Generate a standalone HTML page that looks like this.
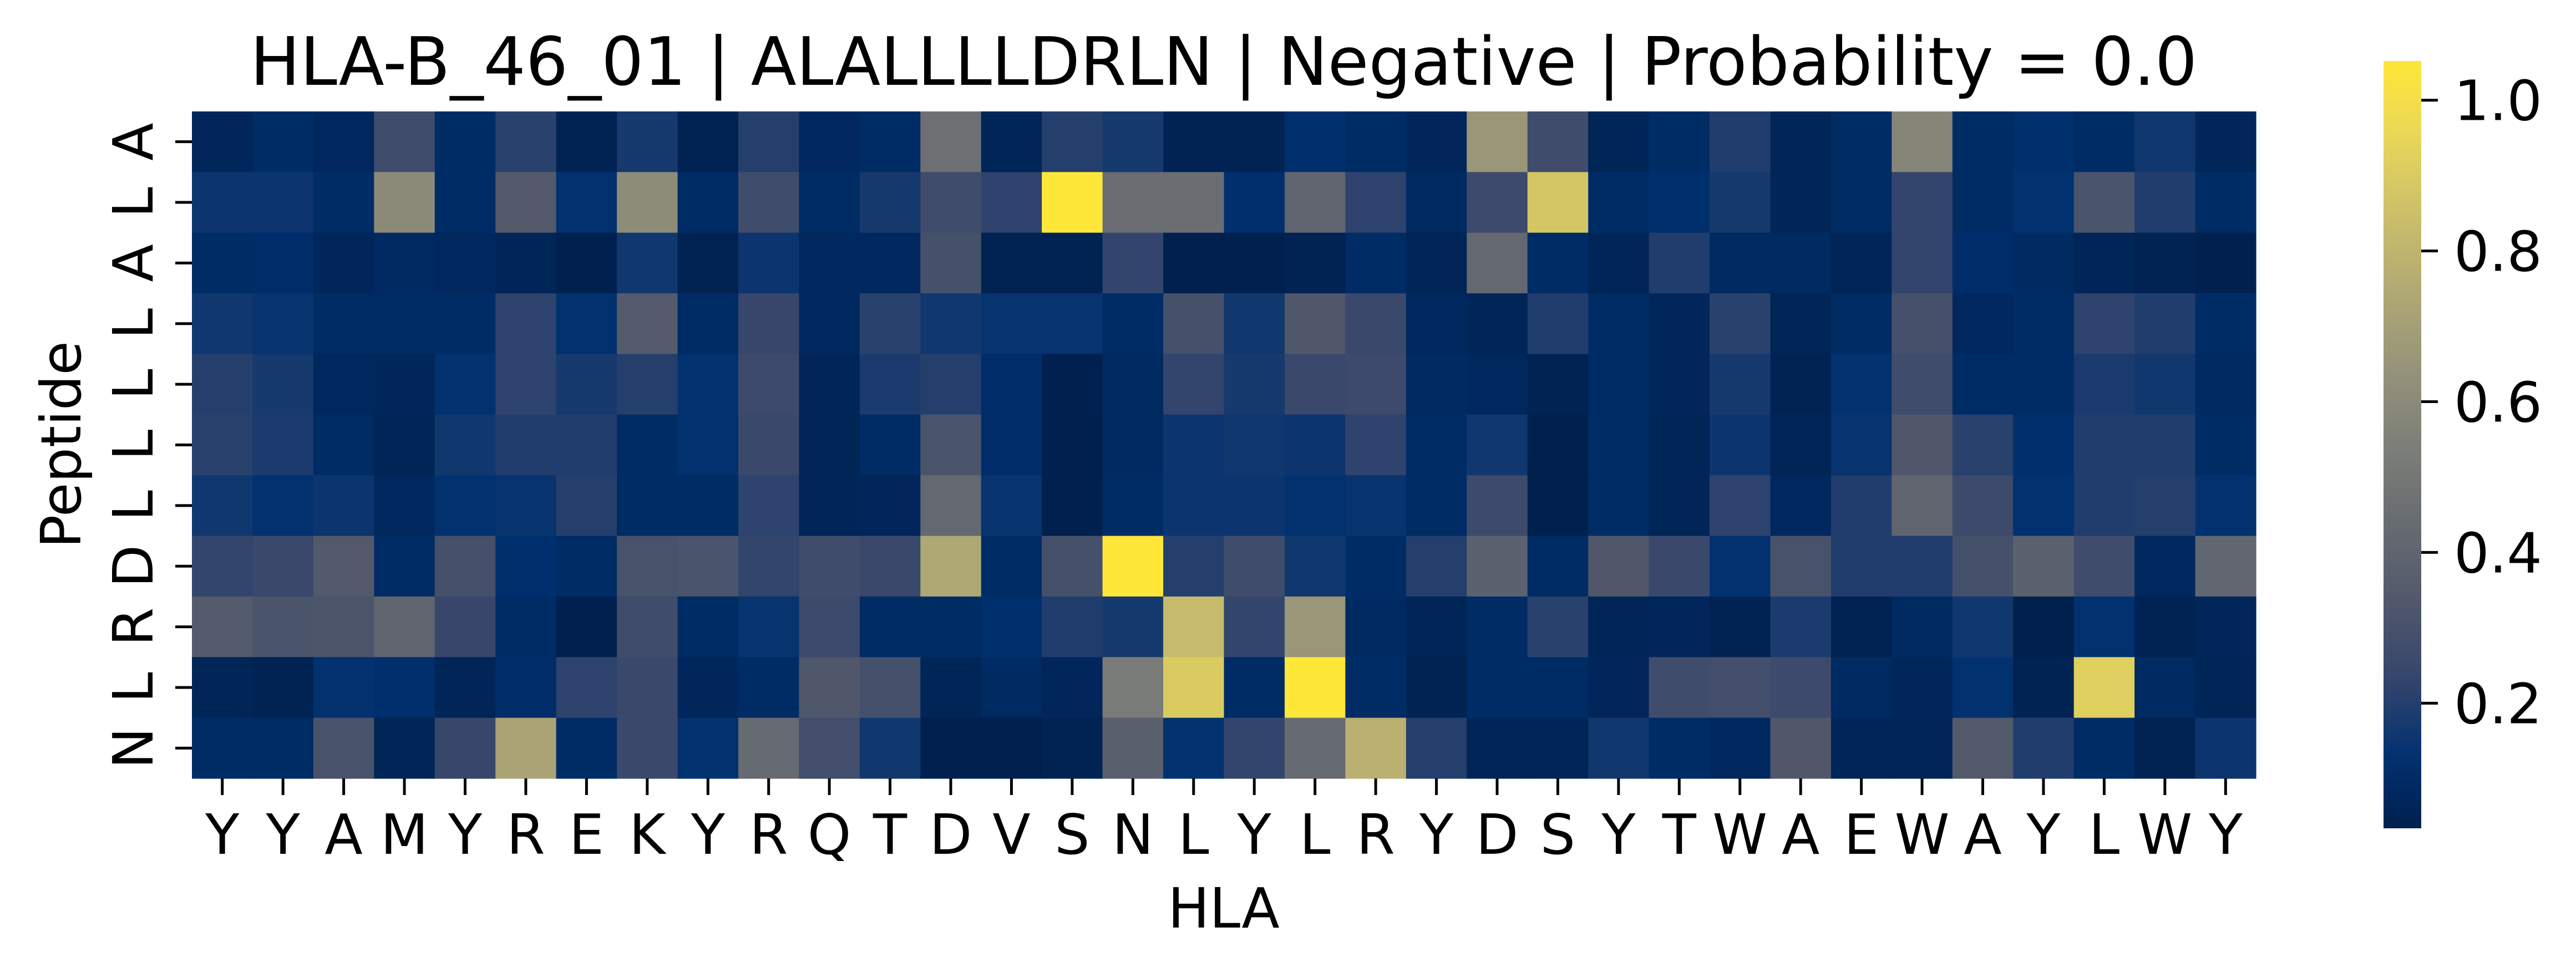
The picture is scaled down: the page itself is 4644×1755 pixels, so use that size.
<!DOCTYPE html>
<html><head><meta charset="utf-8"><style>
html,body{margin:0;padding:0;background:#fff;}
svg text{font-family:"DejaVu Sans","Liberation Sans",sans-serif;fill:#000;}
</style></head><body>
<svg id="chart" width="4644" height="1750" xmlns="http://www.w3.org/2000/svg">
<defs><linearGradient id="cbg" x1="0" y1="1" x2="0" y2="0"></linearGradient></defs>
<text x="2206" y="153" font-size="120" text-anchor="middle">HLA-B_46_01 | ALALLLLDRLN | Negative | Probability = 0.0</text>
<text x="2206" y="1673" font-size="100" text-anchor="middle">HLA</text>
<text x="0" y="0" font-size="100" text-anchor="middle" transform="translate(145,802) rotate(-90)">Peptide</text>
<g id="cells"></g>
<g id="xticks"></g>
<g id="yticks"></g>
<g id="cbar"></g>
</svg>
<script>
const hlaLabels = ["Y","Y","A","M","Y","R","E","K","Y","R","Q","T","D","V","S","N","L","Y","L","R","Y","D","S","Y","T","W","A","E","W","A","Y","L","W","Y"];
const peptideLabels = ["A","L","A","L","L","L","L","D","R","L","N"];
const row0 = [0.07,0.1,0.08,0.27,0.1,0.21,0.05,0.17,0.05,0.2,0.08,0.1,0.46,0.06,0.2,0.17,0.05,0.05,0.12,0.1,0.07,0.66,0.27,0.06,0.1,0.19,0.06,0.1,0.58,0.1,0.12,0.1,0.16,0.07];
const row1 = [0.15,0.15,0.1,0.6,0.1,0.34,0.13,0.61,0.1,0.27,0.1,0.17,0.27,0.22,1.05,0.45,0.45,0.12,0.4,0.22,0.09,0.26,0.88,0.1,0.12,0.17,0.06,0.1,0.23,0.1,0.13,0.31,0.19,0.1];
const row2 = [0.1,0.11,0.07,0.09,0.08,0.06,0.04,0.16,0.05,0.15,0.08,0.08,0.29,0.05,0.05,0.23,0.04,0.04,0.05,0.1,0.06,0.42,0.1,0.06,0.19,0.09,0.09,0.06,0.23,0.11,0.09,0.06,0.05,0.04];
const row3 = [0.16,0.14,0.1,0.1,0.1,0.22,0.13,0.35,0.1,0.24,0.08,0.21,0.16,0.14,0.14,0.1,0.29,0.16,0.33,0.25,0.08,0.06,0.19,0.1,0.07,0.21,0.06,0.1,0.29,0.08,0.1,0.22,0.19,0.1];
const row4 = [0.2,0.17,0.08,0.07,0.13,0.22,0.17,0.2,0.13,0.26,0.06,0.18,0.2,0.11,0.04,0.09,0.23,0.17,0.25,0.26,0.09,0.08,0.05,0.1,0.07,0.17,0.05,0.13,0.27,0.1,0.1,0.18,0.16,0.09];
const row5 = [0.21,0.18,0.1,0.06,0.16,0.19,0.19,0.1,0.13,0.25,0.06,0.1,0.31,0.11,0.03,0.09,0.15,0.16,0.15,0.22,0.1,0.16,0.03,0.1,0.06,0.15,0.06,0.14,0.33,0.21,0.12,0.19,0.19,0.1];
const row6 = [0.16,0.13,0.15,0.08,0.13,0.14,0.2,0.1,0.1,0.22,0.06,0.07,0.42,0.14,0.03,0.1,0.15,0.15,0.13,0.14,0.1,0.26,0.03,0.1,0.06,0.22,0.08,0.19,0.4,0.26,0.13,0.19,0.2,0.13];
const row7 = [0.23,0.25,0.34,0.1,0.29,0.12,0.1,0.3,0.31,0.23,0.27,0.25,0.74,0.1,0.29,1.05,0.2,0.27,0.16,0.1,0.2,0.38,0.1,0.33,0.25,0.13,0.3,0.19,0.19,0.29,0.38,0.27,0.08,0.41];
const row8 = [0.35,0.31,0.32,0.4,0.24,0.1,0.04,0.27,0.1,0.14,0.26,0.1,0.1,0.12,0.19,0.17,0.83,0.23,0.66,0.09,0.06,0.1,0.21,0.06,0.07,0.05,0.18,0.05,0.09,0.16,0.03,0.13,0.05,0.07];
const row9 = [0.06,0.05,0.13,0.12,0.06,0.11,0.22,0.25,0.07,0.1,0.33,0.29,0.06,0.09,0.07,0.52,0.9,0.1,1.05,0.1,0.05,0.1,0.1,0.07,0.27,0.28,0.26,0.09,0.07,0.13,0.05,0.92,0.09,0.06];
const row10 = [0.1,0.1,0.3,0.06,0.24,0.72,0.1,0.25,0.13,0.43,0.28,0.16,0.04,0.04,0.05,0.37,0.13,0.23,0.43,0.78,0.2,0.06,0.06,0.16,0.1,0.08,0.33,0.06,0.06,0.34,0.19,0.1,0.05,0.15];
const values = [row0,row1,row2,row3,row4,row5,row6,row7,row8,row9,row10];
const cbTicks = [0.2,0.4,0.6,0.8,1.0];
const cbTickLabels = ["0.2","0.4","0.6","0.8","1.0"];
const vmin = 0.034, vmax = 1.052;

const cmap = [[0,[0,32,77]],[0.09,[0,48,112]],[0.2,[55,70,108]],[0.3,[82,89,107]],[0.4,[104,108,114]],[0.5,[125,127,120]],[0.6,[150,147,121]],[0.7,[176,169,116]],[0.8,[203,191,106]],[0.9,[232,214,89]],[1,[254,231,56]]];
function colorAt(t){
  t=Math.max(0,Math.min(1,t));
  for(let i=1;i<cmap.length;i++){
    if(t<=cmap[i][0]){
      const a=cmap[i-1],b=cmap[i],f=(t-a[0])/(b[0]-a[0]);
      const c=a[1].map((v,k)=>Math.round(v+(b[1][k]-v)*f));
      return `rgb(${c[0]},${c[1]},${c[2]})`;
    }
  }
  return 'rgb(254,231,56)';
}
const NS='http://www.w3.org/2000/svg';
const X0=346,X1=4067,Y0=201,Y1=1404;
const cw=(X1-X0)/hlaLabels.length, rh=(Y1-Y0)/peptideLabels.length;
const xPos=i=>X0+i*cw, yPos=j=>Y0+j*rh;
function mk(tag,attrs,parent){const e=document.createElementNS(NS,tag);for(const k in attrs)e.setAttribute(k,attrs[k]);parent.appendChild(e);return e;}
const cells=document.getElementById('cells');
values.forEach((row,j)=>row.forEach((v,i)=>{
  const r=mk('rect',{x:xPos(i).toFixed(2),y:yPos(j).toFixed(2),width:(cw+0.6).toFixed(2),height:(rh+0.6).toFixed(2),fill:colorAt((v-vmin)/(vmax-vmin))},cells);
  
  
}));
const xt=document.getElementById('xticks');
hlaLabels.forEach((l,i)=>{
  const cx=xPos(i)+cw/2;
  const ln=mk('line',{x1:cx,x2:cx,y1:Y1,y2:Y1+30,stroke:'#000','stroke-width':5},xt);
  
  
  const t=mk('text',{x:cx,y:1540,'font-size':100,'text-anchor':'middle'},xt);
  t.textContent=l;
  
  
});
const yt=document.getElementById('yticks');
peptideLabels.forEach((l,j)=>{
  const cy=yPos(j)+rh/2;
  const ln=mk('line',{x1:X0-30,x2:X0,y1:cy,y2:cy,stroke:'#000','stroke-width':5},yt);
  
  
  const t=mk('text',{x:0,y:0,'font-size':100,'text-anchor':'middle',transform:`translate(275,${cy}) rotate(-90)`},yt);
  t.textContent=l;
  
  
});
// colorbar
const grad=document.getElementById('cbg');
for(let k=0;k<=20;k++){mk('stop',{offset:k/20,'stop-color':colorAt(k/20)},grad);}
const CB={x:4297,w:68,y0:110,y1:1494};
const cbar=document.getElementById('cbar');
const cr=mk('rect',{x:CB.x,y:CB.y0,width:CB.w,height:CB.y1-CB.y0,fill:'url(#cbg)'},cbar);


const cbY=v=>CB.y1-(v-vmin)/(vmax-vmin)*(CB.y1-CB.y0);
cbTicks.forEach((v,k)=>{
  const y=cbY(v);
  const ln=mk('line',{x1:CB.x+CB.w,x2:CB.x+CB.w+30,y1:y,y2:y,stroke:'#000','stroke-width':5},cbar);
  
  
  const t=mk('text',{x:4424,y:y+36,'font-size':100},cbar);
  t.textContent=cbTickLabels[k];
  
  
});
</script>
</body></html>
